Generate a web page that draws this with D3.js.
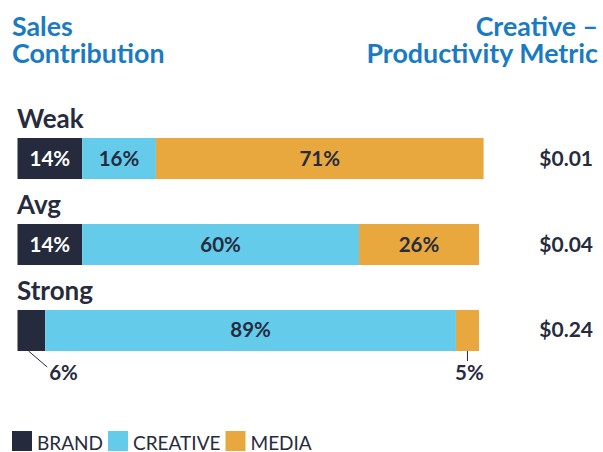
<!DOCTYPE html>
<html>
<head>
<meta charset="utf-8">
<script src="https://cdn.jsdelivr.net/npm/d3@7"></script>
<style>
  html, body { margin: 0; padding: 0; background: #fff; }
  svg { display: block; font-family: Lato, "Open Sans", sans-serif; }
</style>
</head>
<body>
<svg width="603" height="452"></svg>
<script>
  // data
  let levels = ["Weak", "Avg", "Strong"];
  let parts = ["BRAND", "CREATIVE", "MEDIA"];
  let brand = [14, 14, 6];
  let creative = [16, 60, 89];
  let media = [71, 26, 5];
  let metric = ["$0.01", "$0.04", "$0.24"];

  let colors = ["#252b3d", "#64cbeb", "#e8a83e"];
  let ink = "#262c3e",
      blue = "#1a7bc2";

  let svg = d3.select("svg");

  let rows = levels.map((name, i) => ({
    name: name, BRAND: brand[i], CREATIVE: creative[i], MEDIA: media[i], metric: metric[i]
  }));

  let x = d3.scaleLinear()
      .domain([0, 100])
      .range([17.5, 479]);

  let y = d3.scaleBand()
      .domain(levels)
      .range([138, 351])
      .paddingInner(0.523)
      .paddingOuter(0);

  let stack = d3.stack().keys(parts)(rows);
  let color = d3.scaleOrdinal().domain(parts).range(colors);

  // titles, two lines each
  let title = svg.append("g")
      .attr("fill", blue)
      .attr("font-weight", 700)
      .attr("font-size", 26.8);

  let left = title.append("text").attr("y", 36);
  left.append("tspan").attr("x", 12).text("Sales");
  left.append("tspan").attr("x", 12).attr("dy", 27).text("Contribution");

  let right = title.append("text").attr("y", 36).attr("text-anchor", "end");
  right.append("tspan").attr("x", 598).text("Creative –");
  right.append("tspan").attr("x", 598).attr("dy", 27).text("Productivity Metric");

  // category labels
  svg.append("g")
    .selectAll("text")
    .data(levels)
    .enter().append("text")
      .attr("x", 17)
      .attr("y", (d) => y(d) - 10)
      .attr("fill", ink)
      .attr("font-weight", 700)
      .attr("font-size", 26)
      .text((d) => d);

  // bars
  let layer = svg.append("g")
    .selectAll("g")
    .data(stack)
    .enter().append("g")
      .attr("fill", (d) => color(d.key));

  layer.selectAll("rect")
    .data((d) => d)
    .enter().append("rect")
      .attr("x", (d) => x(d[0]))
      .attr("y", (d) => y(d.data.name))
      .attr("width", (d) => x(d[1]) - x(d[0]))
      .attr("height", y.bandwidth());

  // segment labels
  let segs = [];
  stack.forEach((s) => s.forEach((d) => segs.push({ key: s.key, d: d, v: d[1] - d[0] })));

  let inside = segs.filter((s) => s.v >= 10);
  let outside = segs.filter((s) => s.v < 10);

  svg.append("g")
    .selectAll("text")
    .data(inside)
    .enter().append("text")
      .attr("x", (s) => (x(s.d[0]) + x(s.d[1])) / 2)
      .attr("y", (s) => y(s.d.data.name) + y.bandwidth() / 2 + 7)
      .attr("text-anchor", "middle")
      .attr("fill", (s) => s.key === "BRAND" ? "#fff" : ink)
      .attr("font-weight", 700)
      .attr("font-size", 20.5)
      .text((s) => s.v + "%");

  // small segments get a leader line below the bar
  let callout = svg.append("g")
    .selectAll("g")
    .data(outside)
    .enter().append("g");

  callout.append("line")
      .attr("x1", (s) => s.key === "BRAND" ? x(s.d[0]) + 11 : (x(s.d[0]) + x(s.d[1])) / 2)
      .attr("y1", (s) => y(s.d.data.name) + y.bandwidth())
      .attr("x2", (s) => s.key === "BRAND" ? x(s.d[1]) + 2 : (x(s.d[0]) + x(s.d[1])) / 2)
      .attr("y2", (s) => y(s.d.data.name) + y.bandwidth() + (s.key === "BRAND" ? 16 : 10))
      .attr("stroke", ink)
      .attr("stroke-width", 1);

  callout.append("text")
      .attr("x", (s) => s.key === "BRAND" ? x(s.d[1]) + 4 : (x(s.d[0]) + x(s.d[1])) / 2 + 2)
      .attr("y", (s) => y(s.d.data.name) + y.bandwidth() + 29)
      .attr("text-anchor", (s) => s.key === "BRAND" ? "start" : "middle")
      .attr("fill", ink)
      .attr("font-weight", 700)
      .attr("font-size", 20.5)
      .text((s) => s.v + "%");

  // productivity metric
  svg.append("g")
    .selectAll("text")
    .data(rows)
    .enter().append("text")
      .attr("x", 593)
      .attr("y", (d) => y(d.name) + y.bandwidth() / 2 + 7)
      .attr("text-anchor", "end")
      .attr("fill", ink)
      .attr("font-weight", 700)
      .attr("font-size", 21)
      .text((d) => d.metric);

  // legend
  let legend = svg.append("g").attr("transform", "translate(12, 431)");
  let lx = 0;
  parts.forEach((p) => {
    legend.append("rect")
        .attr("x", lx)
        .attr("y", 0)
        .attr("width", 20)
        .attr("height", 20)
        .attr("fill", color(p));
    let t = legend.append("text")
        .attr("x", lx + 25)
        .attr("y", 18.5)
        .attr("fill", ink)
        .attr("font-size", 19)
        .text(p);
    lx += 25 + t.node().getComputedTextLength() + 5;
  });
</script>
</body>
</html>
